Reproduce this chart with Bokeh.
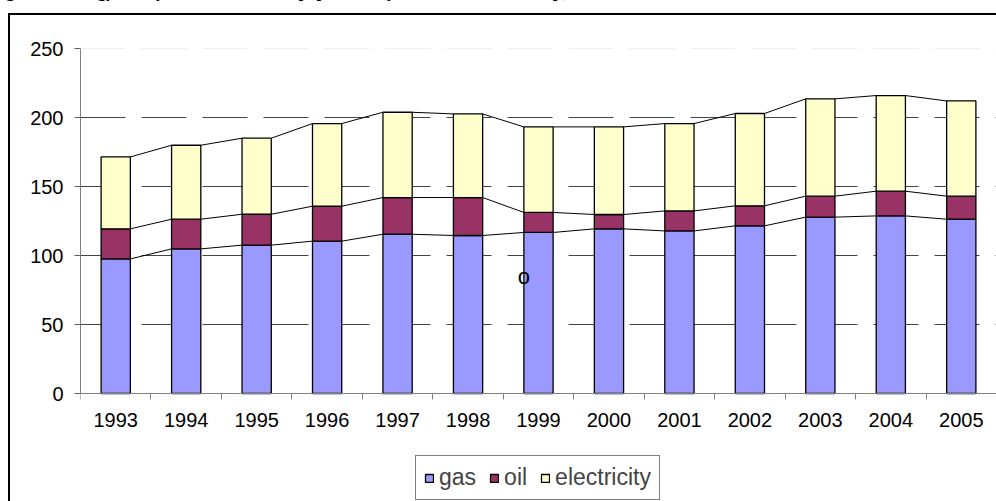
from bokeh.plotting import figure
from bokeh.models import (Range1d, FixedTicker, Span, Legend, LegendItem, ColumnDataSource,
                          InlineStyleSheet)
from bokeh.embed import file_html
from bokeh.resources import INLINE
from bokeh.core.properties import value

# ---- data ----
years = ["1993", "1994", "1995", "1996", "1997", "1998", "1999",
         "2000", "2001", "2002", "2003", "2004", "2005"]
gas = [97.5, 104.8, 107.5, 110.4, 115.4, 114.5, 116.7, 119.3, 117.8, 121.5, 127.8, 128.7, 126.3]
oil = [21.8, 21.5, 22.4, 25.3, 26.6, 27.5, 14.5, 10.4, 14.5, 14.5, 15.2, 17.9, 16.7]
electricity = [52.1, 53.6, 55.1, 59.9, 61.8, 60.6, 62.0, 63.5, 63.3, 66.9, 70.5, 69.3, 69.0]
series_names = ["gas", "oil", "electricity"]
series_colors = ["#9999FF", "#993366", "#FFFFCC"]
y_ticks = [0, 50, 100, 150, 200, 250]
stray_text = "o"
stray_year = "1999"
stray_value = 85
title_text = "Figure 4: Energy use by households in the population (years 1993-2005, kWh/p)"

FONT = "Liberation Sans"
BAR_W = 0.415
idx = list(range(len(years)))

# layout in pixels: plot frame 48..501 px, value axis 0..250 spans 345 px
W, H = 996, 501
FRAME_TOP, AXIS_Y = 48, 393
px_per_unit = (AXIS_Y - FRAME_TOP) / (y_ticks[-1] - y_ticks[0])
y_start = y_ticks[0] - (H - AXIS_Y) / px_per_unit

src = ColumnDataSource(dict(x=idx, gas=gas, oil=oil, electricity=electricity))

p = figure(width=W, height=H,
           x_range=Range1d(-0.5, len(years) - 0.5),
           y_range=Range1d(y_start, y_ticks[-1]),
           output_backend="svg", toolbar_location=None,
           min_border_left=80, min_border_right=0,
           min_border_top=FRAME_TOP, min_border_bottom=0)
p.outline_line_color = None
p.background_fill_color = "white"
p.border_fill_color = "white"

# stacked bars
renderers = p.vbar_stack(series_names, x="x", width=BAR_W, color=series_colors,
                         line_color="black", line_width=1.3, source=src)

# series lines joining the tops of each segment
acc = [0.0] * len(years)
for arr in (gas, oil, electricity):
    acc = [a + b for a, b in zip(acc, arr)]
    p.segment(x0=[i + BAR_W / 2 for i in idx[:-1]], y0=acc[:-1],
              x1=[i + 1 - BAR_W / 2 for i in idx[:-1]], y1=acc[1:],
              line_color="black", line_width=1)

# grid
p.xgrid.visible = False
p.ygrid.ticker = FixedTicker(ticks=y_ticks[1:-1])
p.ygrid.grid_line_color = "#454545"
p.ygrid.grid_line_width = 1
p.ygrid.grid_line_dash = "45 16"
p.add_layout(Span(location=y_ticks[-1], dimension="width", line_color="#dddddd",
                  line_width=1, line_dash="45 16"))

# y axis
p.yaxis.ticker = FixedTicker(ticks=y_ticks)
p.yaxis.bounds = (y_ticks[0], y_ticks[-1])
p.yaxis.axis_line_color = "#808080"
p.yaxis.major_tick_line_color = "#606060"
p.yaxis.major_tick_out = 6
p.yaxis.major_tick_in = 0
p.yaxis.minor_tick_line_color = None
p.yaxis.major_label_text_font = FONT
p.yaxis.major_label_text_font_size = "20px"
p.yaxis.major_label_text_color = "black"
p.yaxis.major_label_standoff = 11

# x axis at value 0: labels centred on the bars, ticks on the category boundaries
p.xaxis.fixed_location = 0
p.xaxis.ticker = FixedTicker(ticks=idx, minor_ticks=[i - 0.5 for i in range(len(years) + 1)])
p.xaxis.major_label_overrides = {i: y for i, y in zip(idx, years)}
p.xaxis.axis_line_color = "#808080"
p.xaxis.major_tick_line_color = None
p.xaxis.major_tick_in = 0
p.xaxis.major_tick_out = 6
p.xaxis.minor_tick_line_color = "#808080"
p.xaxis.minor_tick_in = 0
p.xaxis.minor_tick_out = 6
p.xaxis.major_label_text_font = FONT
p.xaxis.major_label_text_font_size = "20px"
p.xaxis.major_label_text_color = "black"
p.xaxis.major_label_standoff = 13

# stray label
p.text(x=[years.index(stray_year) - BAR_W / 2], y=[stray_value], text=[stray_text],
       text_align="center", text_baseline="middle", text_font=value(FONT),
       text_font_size="22px", text_color="black")

# legend under the year labels
legend = Legend(items=[LegendItem(label=n, renderers=[r]) for n, r in zip(series_names, renderers)],
                orientation="horizontal", location=(335, 1),
                border_line_color="black", border_line_width=1,
                background_fill_color="white", background_fill_alpha=1,
                label_text_font=FONT, label_text_font_size="23px",
                glyph_width=10, glyph_height=10, label_standoff=5,
                spacing=13, padding=8, margin=0)
p.add_layout(legend)

# outer chart border and the cut-off title (page decoration)
css = (
    ":host::after { content: ''; position: absolute; left: 8px; top: 13px;"
    " width: 986px; height: 486px; border-left: 2px solid black;"
    " border-top: 2px solid black; pointer-events: none; z-index: 5; }"
    ":host::before { content: '" + title_text + "'; position: absolute; left: -9px; top: -18px;"
    " white-space: nowrap; font-family: 'Liberation Serif'; font-weight: bold;"
    " font-size: 17px; line-height: 20px; color: black; z-index: 5; }"
)
p.stylesheets = [InlineStyleSheet(css=css)]

open("out.html", "w").write(file_html(p, INLINE))
